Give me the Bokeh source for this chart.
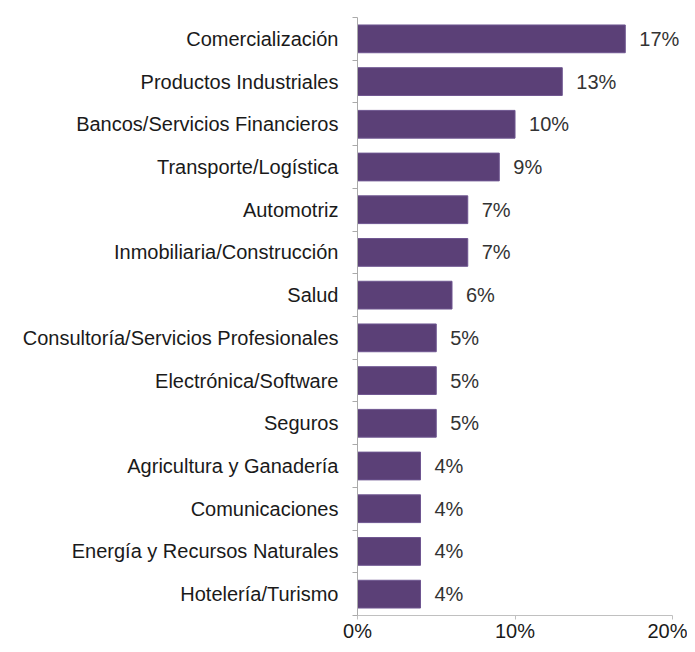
from bokeh.plotting import figure
from bokeh.models import ColumnDataSource, FixedTicker, Range1d, LabelSet
from bokeh.core.properties import value
from bokeh.embed import file_html
from bokeh.resources import INLINE

categories = ["Comercialización", "Productos Industriales", "Bancos/Servicios Financieros",
              "Transporte/Logística", "Automotriz", "Inmobiliaria/Construcción", "Salud",
              "Consultoría/Servicios Profesionales", "Electrónica/Software", "Seguros",
              "Agricultura y Ganadería", "Comunicaciones", "Energía y Recursos Naturales",
              "Hotelería/Turismo"]
values = [17, 13, 10, 9, 7, 7, 6, 5, 5, 5, 4, 4, 4, 4]
x_ticks = [0, 10, 20]

n = len(categories)
ypos = [n - 1 - i for i in range(n)]
src = ColumnDataSource(dict(
    y=ypos, v=values, cat=categories,
    lab=[f"{v}%" for v in values],
))

FONT = "Liberation Sans"
FS = "20px"

p = figure(width=687, height=644, output_backend="svg", toolbar_location=None,
           x_range=Range1d(0, 20.95), y_range=Range1d(-0.5, n - 0.5),
           min_border_left=357, min_border_right=0, min_border_top=17, min_border_bottom=29)
p.outline_line_color = None
p.background_fill_color = "white"
p.border_fill_color = "white"
p.xgrid.grid_line_color = None
p.ygrid.grid_line_color = None

p.hbar(y="y", right="v", left=0, height=0.65, source=src,
       fill_color="#5b4077", line_color="#6e5590", line_width=1)

labels = LabelSet(x="v", y="y", text="lab", source=src, x_offset=14, y_offset=0,
                  text_font=value(FONT), text_font_size=value(FS),
                  text_color="#333333", text_baseline="middle", text_align="left")
p.add_layout(labels)

# y axis
p.yaxis.ticker = FixedTicker(ticks=ypos, minor_ticks=[y - 0.5 for y in range(n + 1)])
p.yaxis.major_label_overrides = {y: c for y, c in zip(ypos, categories)}
p.yaxis.major_tick_line_color = None
p.yaxis.minor_tick_line_color = "#aaaaaa"
p.yaxis.minor_tick_out = 5
p.yaxis.minor_tick_in = 0
p.yaxis.axis_line_color = "#aaaaaa"
p.yaxis.major_label_text_font = FONT
p.yaxis.major_label_text_font_size = FS
p.yaxis.major_label_text_color = "#1a1a1a"
p.yaxis.major_label_standoff = 13

# x axis
p.xaxis.ticker = FixedTicker(ticks=x_ticks)
p.xaxis.bounds = (0, 20)
p.xaxis.major_label_overrides = {t: f"{t}%" for t in x_ticks}
p.xaxis.axis_line_color = "#c0c0c0"
p.xaxis.major_tick_line_color = "#c0c0c0"
p.xaxis.major_tick_out = 4
p.xaxis.major_tick_in = 0
p.xaxis.minor_tick_line_color = None
p.xaxis.major_label_text_font = FONT
p.xaxis.major_label_text_font_size = FS
p.xaxis.major_label_text_color = "#1a1a1a"
p.xaxis.major_label_standoff = 0

open("out.html", "w").write(file_html(p, INLINE))
